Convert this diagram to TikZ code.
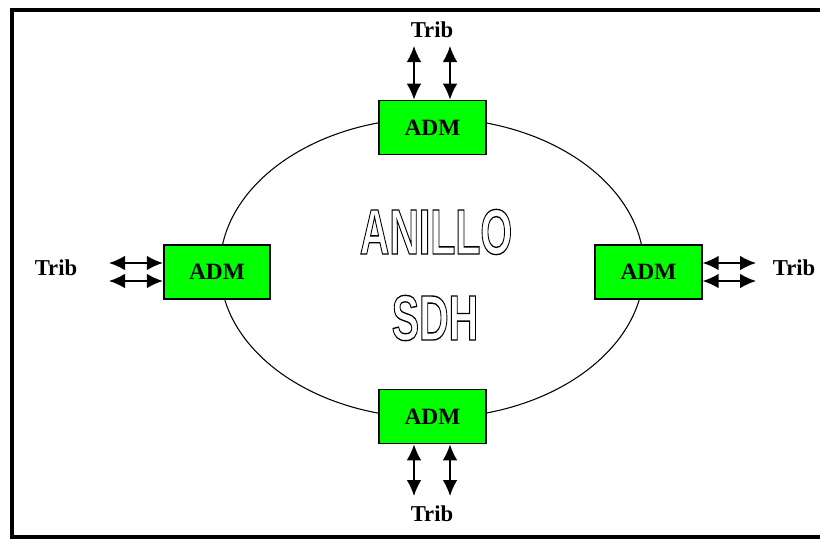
\documentclass[tikz,border=0pt]{standalone}
\usepackage{fontspec}
\setmainfont{Liberation Serif}
\newfontfamily\ringfont{Liberation Sans}
\newcommand{\hollowtext}[1]{\special{pdf:literal direct 1 Tr 1 w}#1\special{pdf:literal direct 0 Tr 1 w}}
\usetikzlibrary{arrows.meta}
\tikzset{
  admbox/.style={draw=black, line width=1.3pt, fill=green, minimum width=80pt, minimum height=40.5pt, inner sep=0pt, font=\fontsize{17.5}{20}\selectfont\bfseries},
  tribtext/.style={font=\fontsize{17}{20}\selectfont\bfseries, inner sep=0pt},
  tribarrow/.style={{Latex[length=12pt,width=11pt]}-{Latex[length=12pt,width=11pt]}, line width=1.1pt},
  ringtext/.style={font=\ringfont\bfseries\fontsize{48}{50}\selectfont, inner sep=0pt, xscale=0.64}
}
\begin{document}
\begin{tikzpicture}[x=0.75pt,y=-0.75pt]
\useasboundingbox (0,0) rectangle (820,539);
% frame
\draw[line width=3pt] (820,10) -- (12,10) -- (12,537) -- (820,537);
% ring
\draw[line width=0.8pt] (432,268) ellipse [x radius=212, y radius=150];
% ADM nodes
\node[admbox] (top) at (432.5,127.5) {ADM};
\node[admbox] (bot) at (432.5,416.5) {ADM};
\node[admbox] (lft) at (217,272) {ADM};
\node[admbox] (rgt) at (648.5,272) {ADM};
% ring text
\node[ringtext] (anillo) at (436,232) {\hollowtext{ANILLO}};
\node[ringtext] (sdh) at (435,318) {\hollowtext{SDH}};
% Trib labels
\node[tribtext] (ttop) at (432,30) {Trib};
\node[tribtext] (tbot) at (432,514) {Trib};
\node[tribtext] (tlft) at (56,268) {Trib};
\node[tribtext] (trgt) at (794,268) {Trib};
% arrow end points
\coordinate (ta1) at (414,46);
\coordinate (ta2) at (450,46);
\coordinate (ba1) at (414,496);
\coordinate (ba2) at (450,496);
\coordinate (la1) at (109,263);
\coordinate (la2) at (109,281);
\coordinate (ra1) at (756,263);
\coordinate (ra2) at (756,281);
% arrows
\draw[tribarrow] (ta1) -- (ta1 |- top.north);
\draw[tribarrow] (ta2) -- (ta2 |- top.north);
\draw[tribarrow] (ba1) -- (ba1 |- bot.south);
\draw[tribarrow] (ba2) -- (ba2 |- bot.south);
\draw[tribarrow] (la1) -- (la1 -| lft.west);
\draw[tribarrow] (la2) -- (la2 -| lft.west);
\draw[tribarrow] (ra1) -- (ra1 -| rgt.east);
\draw[tribarrow] (ra2) -- (ra2 -| rgt.east);
\end{tikzpicture}
\end{document}
